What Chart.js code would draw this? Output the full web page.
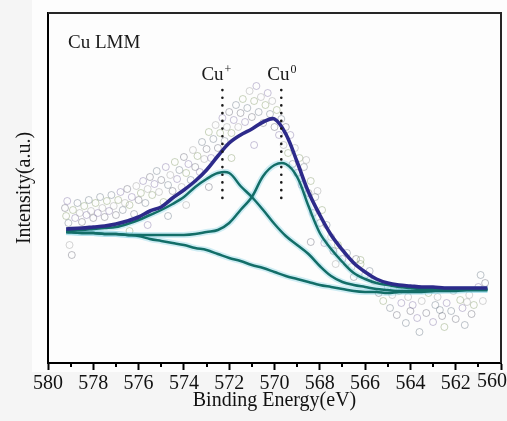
<!DOCTYPE html>
<html>
<head>
<meta charset="utf-8">
<script src="https://cdn.jsdelivr.net/npm/chart.js@4.4.0/dist/chart.umd.min.js"></script>
<style>
  html, body { margin: 0; padding: 0; background: #f6f6f6; }
  #wrap { width: 507px; height: 421px; }
</style>
</head>
<body>
<div id="wrap"><canvas id="graphCanvasCuLMM" width="507" height="421"></canvas></div>
<script>
/**
* Cu LMM Auger spectrum : points mesurés, enveloppe, deux composantes et fond
*/

// binding energy grid of the fitted curves (eV)
var energy = [579.2, 578.5, 578, 577.5, 577, 576.5, 576, 575.5, 575, 574.5, 574, 573.5, 573, 572.5, 572, 571.5, 571, 570.5, 570, 569.5,
              569, 568.5, 568, 567.5, 567, 566.5, 566, 565.5, 565, 564.5, 564, 563.5, 563, 562.5, 562, 561.5, 561, 560.6];
var envelope = [134, 135, 136, 137, 139, 142, 146, 152, 156, 165, 173, 182, 193, 207, 220, 228, 234, 241, 244, 229,
                201, 171, 148, 128, 113, 100, 91, 84, 80, 78, 77, 76, 76, 75, 75, 75, 75, 75];
var peakCuPlus = [132, 133, 134, 135, 136, 139, 143, 148, 153, 159, 166, 176, 184, 190, 190, 177, 166, 153, 139, 127,
                  118, 109, 97, 87, 81, 78, 76, 74, 73, 72, 72, 72, 72, 73, 73, 73, 73, 73];
var peakCu0 = [131, 130, 130, 129, 129, 128, 128, 128, 128, 128, 128, 129, 131, 133, 140, 153, 166, 187, 198, 199,
               186, 157, 130, 114, 101, 90, 84, 80, 78, 76, 75, 74, 74, 74, 74, 74, 74, 74];
var background = [131, 130, 130, 129, 129, 128, 127, 124, 122, 120, 118, 115, 113, 109, 105, 102, 98, 95, 91, 87,
                  84, 81, 78, 76, 74, 72, 71, 71, 70, 71, 71, 71, 72, 72, 72, 73, 73, 73];

// measured points (open circles)
var pointsEnergy = [
  579.25, 579.2, 579.15, 579.1, 579.05, 578.95, 578.9, 578.8, 578.7, 578.6, 578.5, 578.4, 578.3, 578.2, 578.1, 578.0, 577.9, 577.8, 577.7, 577.6,
  577.5, 577.4, 577.3, 577.2, 577.1, 577.0, 576.9, 576.8, 576.7, 576.6, 576.5, 576.4, 576.3, 576.2, 576.1, 576.0, 575.9, 575.8, 575.7, 575.6,
  575.5, 575.4, 575.3, 575.2, 575.1, 575.0, 574.9, 574.8, 574.7, 574.6, 574.5, 574.4, 574.3, 574.2, 574.1, 574.0, 573.9, 573.8, 573.7, 573.6,
  573.5, 573.4, 573.3, 573.2, 573.1, 573.0, 572.9, 572.8, 572.7, 572.6, 572.5, 572.4, 572.3, 572.2, 572.1, 572.0, 571.9, 571.8, 571.7, 571.6,
  571.5, 571.4, 571.3, 571.2, 571.1, 571.0, 570.9, 570.8, 570.7, 570.6, 570.5, 570.4, 570.3, 570.2, 570.1, 570.0, 569.9, 569.8, 569.7, 569.6,
  569.5, 569.4, 569.3, 569.2, 569.1, 569.0, 568.9, 568.8, 568.7, 568.6, 568.5, 568.4, 568.3, 568.2, 568.1, 568.0, 567.9, 567.8, 567.7, 567.5,
  567.4, 567.2, 567.0, 566.8, 566.6, 566.4, 566.2, 566.0, 565.8, 565.6, 565.4, 565.2, 565.0, 564.9, 564.8, 564.6, 564.5, 564.4, 564.2, 564.1,
  564.0, 563.8, 563.7, 563.6, 563.5, 563.3, 563.2, 563.0, 562.9, 562.8, 562.6, 562.5, 562.4, 562.2, 562.1, 562.0, 561.8, 561.7, 561.6, 561.4,
  561.3, 561.2, 561.0, 560.9, 560.8, 560.7, 576.4, 575.6, 574.7, 573.9, 572.9, 571.9, 570.9, 566.5, 567.3, 568.4, 566.2, 563.9, 562.7, 561.5
];
var pointsIntensity = [
  155, 147, 162, 140, 118, 108, 153, 145, 160, 150, 141, 157, 148, 163, 152, 145, 160, 150, 166, 155,
  146, 162, 152, 168, 157, 148, 163, 171, 153, 160, 174, 158, 166, 149, 177, 163, 170, 182, 160, 174,
  186, 168, 179, 192, 171, 183, 161, 196, 178, 188, 172, 201, 184, 193, 176, 206, 190, 199, 183, 213,
  196, 207, 191, 221, 204, 214, 231, 205, 224, 238, 215, 230, 245, 222, 236, 251, 230, 243, 258, 236,
  250, 264, 241, 255, 272, 246, 262, 277, 251, 266, 240, 258, 270, 249, 262, 236, 253, 228, 244, 218,
  236, 210, 228, 199, 215, 190, 205, 178, 196, 203, 170, 182, 150, 166, 172, 140, 153, 120, 138, 126,
  112, 118, 104, 110, 96, 104, 99, 88, 92, 82, 70, 62, 76, 55, 68, 48, 72, 60, 40, 66,
  52, 74, 45, 31, 62, 50, 70, 41, 58, 66, 47, 36, 60, 52, 72, 44, 63, 55, 38, 68,
  49, 58, 76, 88, 62, 80, 132, 138, 147, 158, 176, 205, 218, 86, 99, 121, 103, 58, 53, 61
];

// axis ticks
var xTicks = [580, 578, 576, 574, 572, 570, 568, 566, 564, 562, 560];
var xMinorTicks = [579, 577, 575, 573, 571, 569, 567, 565, 563, 561];

// peak markers
var peakPositions = [572.3, 569.7];
var peakSup = ['+', '0'];
var markerTop = 273;
var markerBottom = 163;
var labelLevel = 283;

var circleColors = ['rgba(105,105,120,0.55)', 'rgba(125,150,95,0.5)', 'rgba(120,105,160,0.5)', 'rgba(95,110,125,0.5)', 'rgba(150,150,150,0.5)'];

Chart.defaults.font.family = '"Liberation Serif", "DejaVu Serif", serif';
Chart.defaults.color = '#111';

function toPoints(xs, ys)
{
  var pts = [];
  for (var i = 0; i < xs.length; i++) {
    pts.push({x: xs[i], y: ys[i]});
  }
  return pts;
}

function curve(values, color, width, order)
{
  return {
    data: toPoints(energy, values),
    showLine: true,
    borderColor: color,
    borderWidth: width,
    pointRadius: 0,
    tension: 0.35,
    fill: false,
    order: order
  };
}

function marker(pos)
{
  return {
    data: [{x: pos, y: markerTop}, {x: pos, y: markerBottom}],
    showLine: true,
    borderColor: '#1a1a1a',
    borderWidth: 2.6,
    borderDash: [0.1, 7.6],
    borderCapStyle: 'round',
    pointRadius: 0,
    order: 0
  };
}

var decorPlugin = {
  id: 'decor',
  beforeDraw: function (chart)
  {
    var ctx = chart.ctx;
    ctx.save();
    ctx.fillStyle = '#f5f5f5';
    ctx.fillRect(0, 0, chart.width, chart.height);
    ctx.fillStyle = '#fdfdfd';
    ctx.fillRect(32, 0, chart.width - 32, chart.chartArea.bottom + 9);
    ctx.restore();
  },
  afterDraw: function (chart)
  {
    var ctx = chart.ctx;
    var area = chart.chartArea;
    var xs = chart.scales.x;
    var ys = chart.scales.y;
    ctx.save();

    // top and right sides of the frame
    ctx.strokeStyle = '#262626';
    ctx.lineWidth = 2;
    ctx.beginPath();
    ctx.moveTo(area.left, area.top);
    ctx.lineTo(area.right, area.top);
    ctx.lineTo(area.right, area.bottom);
    ctx.stroke();

    // minor ticks
    ctx.strokeStyle = '#000';
    for (var i = 0; i < xMinorTicks.length; i++) {
      var mx = Math.round(xs.getPixelForValue(xMinorTicks[i]));
      ctx.beginPath();
      ctx.moveTo(mx, area.bottom);
      ctx.lineTo(mx, area.bottom + 4);
      ctx.stroke();
    }

    // last tick label, pushed inside the canvas
    ctx.fillStyle = '#111';
    ctx.font = '20px "Liberation Serif", serif';
    ctx.textAlign = 'right';
    ctx.textBaseline = 'top';
    ctx.fillText(String(xTicks[xTicks.length - 1]), chart.width, area.bottom + 9);

    ctx.textAlign = 'left';
    ctx.fillStyle = '#1a1a1a';
    ctx.textBaseline = 'alphabetic';
    ctx.font = '19px "Liberation Serif", serif';
    ctx.fillText('Cu LMM', area.left + 20, area.top + 35);

    var shifts = [21, 14];
    for (var j = 0; j < peakPositions.length; j++) {
      var px = xs.getPixelForValue(peakPositions[j]) - shifts[j];
      var py = ys.getPixelForValue(labelLevel);
      ctx.font = '19px "Liberation Serif", serif';
      ctx.fillText('Cu', px, py);
      var w = ctx.measureText('Cu').width;
      ctx.font = '12px "Liberation Serif", serif';
      ctx.fillText(peakSup[j], px + w + 1, py - 7);
    }
    ctx.restore();
  }
};

var chartTarget = document.getElementById('graphCanvasCuLMM');

var spectrum = new Chart(chartTarget, {
  type: 'scatter',
  data: {
    datasets: [
      curve(envelope, '#2d2a8a', 3.6, 1),
      curve(peakCu0, '#136e68', 2.5, 2),
      curve(peakCuPlus, '#136e68', 2.5, 3),
      curve(background, '#136e68', 2.5, 4),
      curve(peakCu0, 'rgba(120,205,225,0.35)', 6, 6),
      curve(peakCuPlus, 'rgba(120,205,225,0.35)', 6, 7),
      curve(background, 'rgba(120,205,225,0.35)', 6, 8),
      marker(peakPositions[0]),
      marker(peakPositions[1]),
      {
        data: toPoints(pointsEnergy, pointsIntensity),
        pointStyle: 'circle',
        pointRadius: 3.5,
        pointBorderWidth: 0.8,
        pointBorderColor: function (c) { return circleColors[c.dataIndex % circleColors.length]; },
        pointBackgroundColor: 'rgba(255,255,255,0)',
        showLine: false,
        order: 10
      }
    ]
  },
  options: {
    responsive: false,
    animation: false,
    devicePixelRatio: 1,
    layout: { padding: { top: 13, right: 6, left: 0, bottom: 0 } },
    plugins: {
      legend: { display: false },
      tooltip: { enabled: false }
    },
    scales: {
      x: {
        type: 'linear',
        reverse: true,
        min: 560,
        max: 580,
        afterBuildTicks: function (s) {
          s.ticks = xTicks.map(function (v) { return {value: v}; });
        },
        ticks: {
          font: { size: 20 }, color: '#111', padding: 2, maxRotation: 0, autoSkip: false,
          callback: function (v) { return v === xTicks[xTicks.length - 1] ? '' : String(v); }
        },
        grid: { display: true, drawOnChartArea: false, drawTicks: true, tickLength: 7, tickWidth: 2, tickColor: '#000' },
        border: { display: true, color: '#000', width: 2 },
        title: { display: true, text: 'Binding Energy(eV)', font: { size: 20 }, color: '#111', padding: { top: 0, bottom: 8 } },
        afterFit: function (s) { s.height = 58; s.paddingLeft = 0; s.paddingRight = 0; }
      },
      y: {
        min: 0,
        max: 350,
        ticks: { display: false },
        grid: { display: false },
        border: { display: true, color: '#000', width: 2 },
        title: { display: true, text: 'Intensity(a.u.)', font: { size: 20 }, color: '#111', padding: { top: 13, bottom: 0 } },
        afterFit: function (s) { s.width = 48; s.paddingTop = 0; s.paddingBottom = 0; }
      }
    }
  },
  plugins: [decorPlugin]
});
</script>
</body>
</html>
